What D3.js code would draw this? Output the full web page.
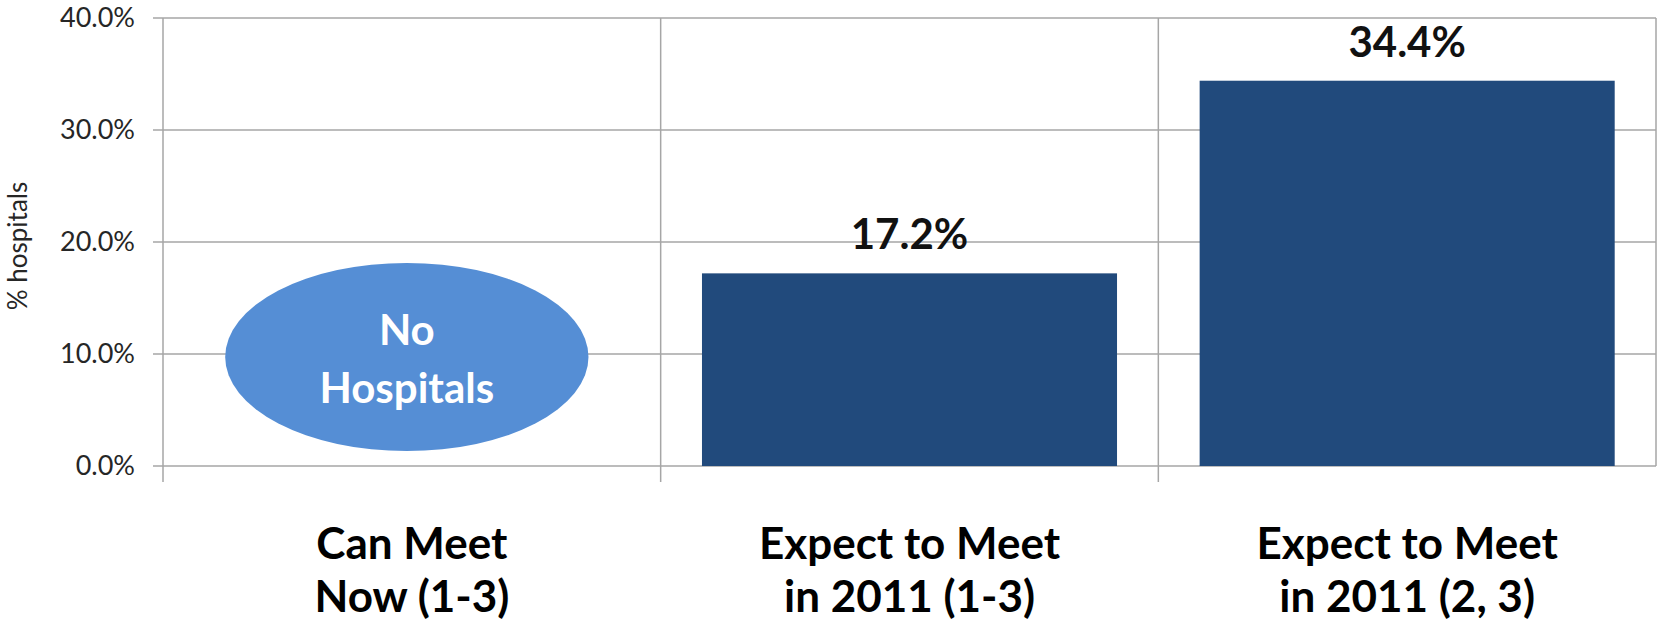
<!DOCTYPE html>
<html>
<head>
<meta charset="utf-8">
<script src="https://cdn.jsdelivr.net/npm/d3@7"></script>
<style>
  body { margin: 0; background: #fff; }
  text { font-family: Lato, "Open Sans", sans-serif; }
</style>
</head>
<body>
<script>
// chart data
var categories = [["Can Meet", "Now (1-3)"], ["Expect to Meet", "in 2011 (1-3)"], ["Expect to Meet", "in 2011 (2, 3)"]];
var values = [null, 17.2, 34.4];
var yTicks = [0, 10, 20, 30, 40];
var noHospitalsLabel = ["No", "Hospitals"];
var noHospitalsAt = 10; // ellipse centre, % value

var W = 1658, H = 626;
var margin = {top: 18, right: 2, bottom: 160, left: 163};
var width = W - margin.left - margin.right,
    height = H - margin.top - margin.bottom;

var svg = d3.select("body").append("svg")
  .attr("width", W)
  .attr("height", H)
  .append("g")
  .attr("transform", "translate(" + margin.left + "," + margin.top + ")");

// set the ranges
var x = d3.scaleBand().domain(d3.range(categories.length)).range([0, width]).paddingInner(0.166).paddingOuter(0.083);
var y = d3.scaleLinear().domain([0, 40]).range([height, 0]);
var step = x.step();

// horizontal gridlines + left ticks
svg.append("g")
  .selectAll("line")
  .data(yTicks)
  .enter().append("line")
  .attr("x1", -10).attr("x2", width)
  .attr("y1", function(d) { return y(d); })
  .attr("y2", function(d) { return y(d); })
  .attr("stroke", "#a6a6a6").attr("stroke-width", 1.5);

// vertical lines at category boundaries (extend below baseline)
svg.append("g")
  .selectAll("line")
  .data(d3.range(categories.length + 1))
  .enter().append("line")
  .attr("x1", function(i) { return i * step; })
  .attr("x2", function(i) { return i * step; })
  .attr("y1", 0)
  .attr("y2", function(i) { return i == categories.length ? height : height + 16; })
  .attr("stroke", "#a6a6a6").attr("stroke-width", 1.5);

// Y axis labels
svg.append("g")
  .attr("transform", "translate(-25,0)")
  .call(d3.axisLeft(y).tickValues(yTicks).tickSize(0).tickFormat(function(d) { return d.toFixed(1) + "%"; }))
  .call(function(g) { g.select(".domain").remove(); })
  .selectAll("text")
  .attr("font-size", 27)
  .attr("fill", "#262626")
  .attr("font-family", "Lato");

// y axis title
svg.append("text")
  .attr("transform", "translate(-145," + (height / 2 + 4) + ") rotate(-90)")
  .attr("text-anchor", "middle")
  .attr("dy", "0.35em")
  .attr("font-size", 26)
  .attr("fill", "#262626")
  .text("% hospitals");

// bars
var barData = values.map(function(v, i) { return {i: i, v: v}; }).filter(function(d) { return d.v != null; });
svg.selectAll(".bar")
  .data(barData)
  .enter().append("rect")
  .attr("class", "bar")
  .attr("x", function(d) { return x(d.i); })
  .attr("width", x.bandwidth())
  .attr("y", function(d) { return y(d.v); })
  .attr("height", function(d) { return height - y(d.v); })
  .attr("fill", "#214a7c");

// value labels
svg.selectAll(".val")
  .data(barData)
  .enter().append("text")
  .attr("class", "val")
  .attr("x", function(d) { return x(d.i) + x.bandwidth() / 2; })
  .attr("y", function(d) { return y(d.v) - 24; })
  .attr("text-anchor", "middle")
  .attr("font-size", 42)
  .attr("font-weight", "bold")
  .attr("fill", "#111")
  .text(function(d) { return d.v.toFixed(1) + "%"; });

// "No Hospitals" ellipse on the empty category
var cx = x(0) + x.bandwidth() / 2 - 5, cy = y(noHospitalsAt) + 3;
svg.append("ellipse")
  .attr("cx", cx).attr("cy", cy)
  .attr("rx", step * 0.365)
  .attr("ry", height * 0.21)
  .attr("fill", "#558ed5");
svg.append("text")
  .attr("x", cx).attr("text-anchor", "middle")
  .attr("font-size", 42).attr("font-weight", "bold").attr("fill", "#fff")
  .selectAll("tspan")
  .data(noHospitalsLabel)
  .enter().append("tspan")
  .attr("x", cx)
  .attr("y", function(d, i) { return cy - 12 + i * 58; })
  .text(function(d) { return d; });

// category labels
var cat = svg.selectAll(".cat")
  .data(categories)
  .enter().append("text")
  .attr("class", "cat")
  .attr("text-anchor", "middle")
  .attr("font-size", 44)
  .attr("font-weight", "bold")
  .attr("fill", "#000");
cat.selectAll("tspan")
  .data(function(d, i) { return d.map(function(s) { return {s: s, i: i}; }); })
  .enter().append("tspan")
  .attr("x", function(d) { return x(d.i) + x.bandwidth() / 2; })
  .attr("y", function(d, j) { return height + 93 + j * 53; })
  .text(function(d) { return d.s; });
</script>
</body>
</html>
